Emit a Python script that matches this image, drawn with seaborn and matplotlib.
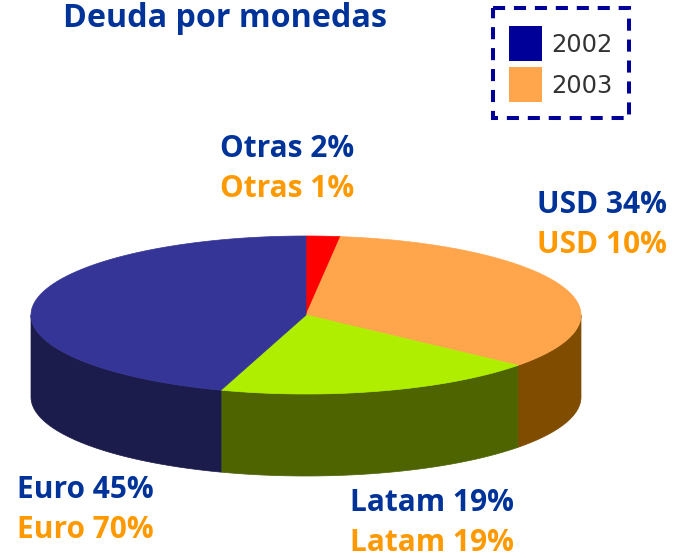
import numpy as np
import matplotlib
matplotlib.use("Agg")
import matplotlib.pyplot as plt
from matplotlib.patches import Polygon, Rectangle
import seaborn as sns

# Debt composition by currency
categories = ["Otras", "USD", "Latam", "Euro"]
share_2002 = [2, 34, 19, 45]
share_2003 = [1, 10, 19, 70]
years = ["2002", "2003"]

top_colors = ["#FF0000", "#FFA64D", "#B0EE00", "#353597"]
side_colors = ["#990000", "#7F4C00", "#4D6400", "#1C1C4C"]
year_colors = ["#000099", "#FFA64D"]
label_colors = ["#003399", "#FF9900"]

sns.set_theme(style="white")
plt.rcParams["font.family"] = ["Open Sans", "DejaVu Sans"]

W, H = 686, 558
fig = plt.figure(figsize=(W / 100, H / 100), dpi=100)
ax = fig.add_axes([0, 0, 1, 1])
ax.set_xlim(0, W)
ax.set_ylim(H, 0)
ax.axis("off")

# 3D pie geometry (pixel space, y pointing down)
cx, cy, a, b, depth = 306, 315, 275, 79, 82


def rim(t_deg, dy=0.0):
    t = np.radians(t_deg)
    return np.column_stack([cx + a * np.sin(t), cy - b * np.cos(t) + dy])


fractions = np.array(share_2002, dtype=float) / sum(share_2002)
ends = np.cumsum(fractions) * 360
starts = ends - fractions * 360

# outer wall, front half only
for s, e, c in zip(starts, ends, side_colors):
    lo, hi = max(s, 90), min(e, 270)
    if hi <= lo:
        continue
    t = np.linspace(lo, hi, 120)
    pts = np.vstack([rim(t), rim(t[::-1], depth)])
    ax.add_patch(Polygon(pts, closed=True, facecolor=c, edgecolor=c, lw=0.5))

# top faces
for s, e, c in zip(starts, ends, top_colors):
    t = np.linspace(s, e, 200)
    pts = np.vstack([[cx, cy], rim(t)])
    ax.add_patch(Polygon(pts, closed=True, facecolor=c, edgecolor=c, lw=0.5))

# title
ax.text(63, 27, "Deuda por monedas", fontsize=23.2, fontweight="bold",
        color="#003399", ha="left", va="baseline")

# slice labels: 2002 on the first line, 2003 below
label_pos = {"Otras": (220, 157), "USD": (537, 213),
             "Latam": (350, 511), "Euro": (17, 498)}
line_gap = 40
for cat, v02, v03 in zip(categories, share_2002, share_2003):
    x, y = label_pos[cat]
    for k, (v, col) in enumerate(zip([v02, v03], label_colors)):
        ax.text(x, y + k * line_gap, f"{cat} {v}%", fontsize=21.5,
                fontweight="bold", color=col, ha="left", va="baseline")

# legend box
ax.add_patch(Rectangle((493, 8), 136, 110, fill=False, edgecolor="#000099",
                       lw=2.9, linestyle=(0, (3, 2.2))))
for i, (yr, col) in enumerate(zip(years, year_colors)):
    y0 = 26 + i * 41
    ax.add_patch(Rectangle((509, y0), 33, 35, facecolor=col, edgecolor="none"))
    ax.text(551, y0 + 26, yr, fontsize=17.4, color="#333333",
            family=["DejaVu Sans"], ha="left", va="baseline")

fig.savefig("out.png", dpi=100)
